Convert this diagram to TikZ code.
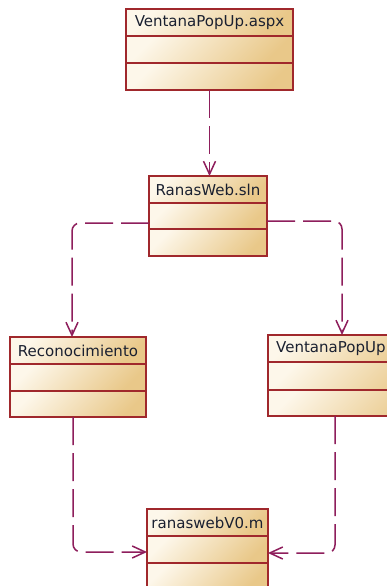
\documentclass[tikz,border=0pt]{standalone}
\usepackage{fontspec}
\setmainfont{DejaVu Sans}
\usetikzlibrary{arrows.meta}
\definecolor{boxborder}{HTML}{A0282C}
\definecolor{linkcol}{HTML}{8E1E5C}
\definecolor{fillA}{HTML}{FDF7EA}
\definecolor{fillB}{HTML}{E9C889}
\definecolor{txt}{HTML}{1A2030}
\tikzset{
  compfill/.style={top color=fillA, bottom color=fillB, shading angle=45},
  boxline/.style={draw=boxborder, line width=1.4pt},
  classbox/.style={draw=boxborder, line width=1.4pt, inner sep=0pt, outer sep=0pt},
  title/.style={font=\fontsize{15}{18}\selectfont, text=txt, inner sep=0pt},
  dep/.style={draw=linkcol, line width=1.5pt, dash pattern=on 28pt off 8pt,
    rounded corners=8pt, -{Straight Barb[length=13pt,width=12pt]}}
}
% #1 name, #2 left, #3 top, #4 right, #5 divider 1, #6 divider 2, #7 bottom, #8 title
\newcommand\umlclass[8]{%
  \shade[compfill] (#2,#3) rectangle (#4,#5);
  \shade[compfill] (#2,#5) rectangle (#4,#6);
  \shade[compfill] (#2,#6) rectangle (#4,#7);
  \draw[boxline] (#2,#5) -- (#4,#5) (#2,#6) -- (#4,#6);
  \node[classbox, minimum width={(#4-#2)*1pt}, minimum height={(#7-#3)*1pt}]
    (#1) at ({(#2+#4)/2},{(#3+#7)/2}) {};
  \node[title] (#1t) at ({(#2+#4)/2},{(#3+#5)/2}) {#8};
}
\begin{document}
\begin{tikzpicture}[x=1pt,y=-1pt]
\useasboundingbox (0,0) rectangle (387,586);
\clip (0,0) rectangle (387,586);
\fill[white] (0,0) rectangle (387,586);

\umlclass{b1}{126}{9}{293}{36}{63}{90}{VentanaPopUp.aspx}
\umlclass{b2}{149}{176}{267}{203}{229}{256}{RanasWeb.sln}
\umlclass{b3}{10}{337}{146}{364}{391}{417}{Reconocimiento}
\umlclass{b4}{268}{335}{435}{362}{390}{416}{}
\node[title, anchor=west] (b4text) at (276,348.5) {VentanaPopUp};
\umlclass{b5}{147}{509}{268}{536}{563}{589}{ranaswebV0.m}

\draw[dep] (b1.south) -- (b1.south |- b2.north);
\draw[dep] ([yshift=-7pt]b2.west) -| ([xshift=-6pt]b3.north);
\draw[dep] ([yshift=-5pt]b2.east) -| ([xshift=-9.5pt]b4.north);
\draw[dep] ([xshift=-5pt]b3.south) |- ([yshift=-3pt]b5.west);
\draw[dep] ([xshift=-16.5pt]b4.south) |- ([yshift=-4pt]b5.east);
\end{tikzpicture}
\end{document}
